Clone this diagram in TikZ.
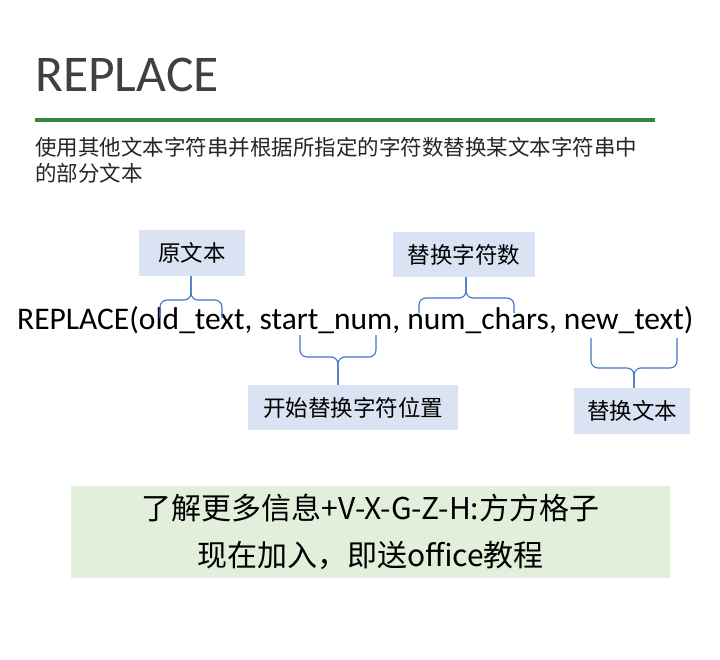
\documentclass[tikz,border=0pt]{standalone}
\usepackage{fontspec}
\setmainfont{Carlito}
\newfontfamily\cjk{Noto Sans CJK SC}
\usepackage{xcolor}
\definecolor{titlegray}{RGB}{64,64,64}
\definecolor{rulegreen}{RGB}{56,135,65}
\definecolor{boxblue}{RGB}{218,227,243}
\definecolor{braceblue}{RGB}{68,114,196}
\definecolor{promogreen}{RGB}{226,239,218}

\begin{document}
\begin{tikzpicture}[x=1pt, y=-1pt,
  labelbox/.style={fill=boxblue, inner sep=0pt, minimum height=46pt, font=\cjk\fontsize{22.5}{26}\selectfont},
  brace/.style={draw=braceblue, line width=1.1pt, rounded corners=7pt}]
  \useasboundingbox (0,0) rectangle (720,660);

  % Title and green rule
  \node[anchor=base west, inner sep=0pt, text=titlegray, font=\fontsize{51.5}{60}\selectfont] (title) at (35,92) {REPLACE};
  \draw[rulegreen, line width=4pt] (35,120) -- (655,120);

  % Description
  \node[anchor=west, align=left, inner sep=0pt, text=black!85, font=\cjk\fontsize{21.5}{26}\selectfont] (desc) at (35,160)
    {使用其他文本字符串并根据所指定的字符数替换某文本字符串中\\的部分文本};

  % Formula
  \node[anchor=base west, inner sep=0pt, font=\fontsize{31.5}{36}\selectfont] (formula) at (17,329)
    {REPLACE(old\_text, start\_num, num\_chars, new\_text)};

  % Label boxes
  \node[labelbox, minimum width=106pt] (oldbox) at (192,253) {原文本};
  \node[labelbox, minimum width=142pt, minimum height=45pt] (numbox) at (464,254.5) {替换字符数};
  \node[labelbox, minimum width=210pt, minimum height=45pt] (startbox) at (353,407.5) {开始替换字符位置};
  \node[labelbox, minimum width=116pt] (newbox) at (632,411) {替换文本};

  % Brace ends and joints
  \coordinate (old-l) at (160,318);   \coordinate (old-r) at (222,318);   \coordinate (old-m) at (191,300);
  \coordinate (num-l) at (419,313);   \coordinate (num-r) at (514,313);   \coordinate (num-m) at (466,298);
  \coordinate (start-l) at (300,335); \coordinate (start-r) at (376,335); \coordinate (start-m) at (338,357);
  \coordinate (new-l) at (591,338);   \coordinate (new-r) at (677,338);   \coordinate (new-m) at (634,368);

  % Braces
  \foreach \b/\lbl in {old/oldbox.south, num/numbox.south, start/startbox.north, new/newbox.north} {
    \draw[brace] (\b-l) |- (\b-m) -- (\b-m |- \lbl);
    \draw[brace] (\b-r) |- (\b-m) -- (\b-m |- \lbl);
  }

  % Promotion box
  \node[fill=promogreen, minimum width=599pt, minimum height=92pt, align=center, inner sep=0pt,
        font=\cjk\fontsize{30}{47}\selectfont] (promo) at (370.5,532)
    {了解更多信息+V-X-G-Z-H:方方格子\\现在加入，即送office教程};
\end{tikzpicture}
\end{document}
